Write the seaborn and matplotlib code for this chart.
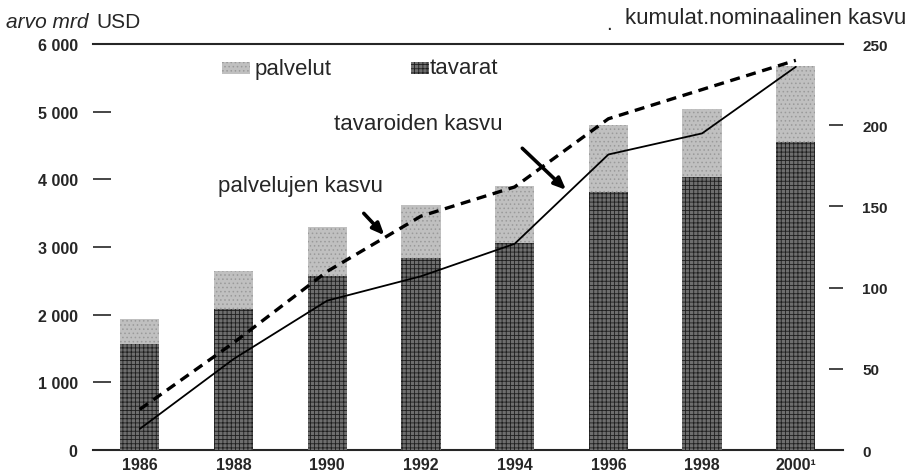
import numpy as np
import pandas as pd
import matplotlib
matplotlib.use("Agg")
import matplotlib.pyplot as plt
import seaborn as sns

years = ["1986", "1988", "1990", "1992", "1994", "1996", "1998", "2000¹"]
tavarat = [1560, 2080, 2570, 2840, 3060, 3820, 4030, 4550]
yhteensa = [1930, 2640, 3290, 3620, 3900, 4810, 5040, 5670]
palvelujen_kasvu = [25, 66, 110, 144, 162, 204, 222, 240]
tavaroiden_kasvu = [13, 56, 92, 107, 127, 182, 195, 236]

df = pd.DataFrame({"vuosi": years, "tavarat": tavarat, "yhteensa": yhteensa,
                   "palv": palvelujen_kasvu, "tav": tavaroiden_kasvu})
df["pos"] = np.arange(len(df))

sns.set_style("white")
plt.rcParams["font.family"] = ["Liberation Sans", "DejaVu Sans"]
plt.rcParams["hatch.linewidth"] = 0.6
narrow = ["Liberation Sans Narrow", "Liberation Sans", "DejaVu Sans"]

fig = plt.figure(figsize=(9.11, 4.77), dpi=100)
ax = fig.add_axes([0.102, 0.0545, 0.823, 0.851])

sns.barplot(data=df, x="vuosi", y="yhteensa", color="#c0c0c0", width=0.42,
            saturation=1, ax=ax, zorder=2)
sns.barplot(data=df, x="vuosi", y="tavarat", color="#6e6e6e", width=0.42,
            saturation=1, ax=ax, zorder=3)
for i, p in enumerate(ax.patches):
    p.set_linewidth(0)
    if i < len(df):
        p.set_hatch("....")
        p.set_edgecolor("#9a9a9a")
    else:
        p.set_hatch("++++")
        p.set_edgecolor("#1e1e1e")

ax.set_xlim(-0.5, len(df) - 0.5)
ax.set_ylim(0, 6000)
ax.set_yticks([0, 1000, 2000, 3000, 4000, 5000, 6000])
ax.set_yticklabels(["0", "1 000", "2 000", "3 000", "4 000", "5 000", "6 000"],
                   family=narrow, fontsize=11.5, fontweight="bold")
ax.set_xticks(df["pos"])
ax.set_xticklabels(years, family=narrow, fontsize=11.5, fontweight="bold")
ax.tick_params(axis="y", direction="in", length=13, width=1.2, pad=11, left=True)
ax.tick_params(axis="x", length=0, pad=5)
ax.set_xlabel("")
ax.set_ylabel("")
for s in ["left", "right"]:
    ax.spines[s].set_visible(False)
ax.spines["top"].set_linewidth(1.5)
ax.spines["bottom"].set_linewidth(1.5)

ax2 = ax.twinx()
sns.lineplot(data=df, x="pos", y="palv", ax=ax2, color="black", linewidth=2.4,
             linestyle=(0, (3, 2)), zorder=5)
sns.lineplot(data=df, x="pos", y="tav", ax=ax2, color="black", linewidth=1.3,
             zorder=5)
ax2.set_ylim(0, 250)
ax2.set_yticks([0, 50, 100, 150, 200, 250])
ax2.set_yticklabels(["0", "50", "100", "150", "200", "250"],
                    family=narrow, fontsize=11, fontweight="bold")
ax2.tick_params(axis="y", direction="in", length=10, width=1.2, pad=14, right=True)
ax2.set_ylabel("")
ax2.set_xlabel("")
for s in ["left", "right", "top", "bottom"]:
    ax2.spines[s].set_visible(False)
ax.set_xlim(-0.5, len(df) - 0.5)

# annotations
arrow = dict(arrowstyle="-|>,head_length=0.7,head_width=0.3", color="black", lw=2.6)
ax2.annotate("", xy=(2.63, 131), xytext=(2.37, 147), arrowprops=arrow)
ax2.text(0.83, 163, "palvelujen kasvu", fontsize=16, ha="left", va="center")
ax2.annotate("", xy=(4.57, 159), xytext=(4.06, 187), arrowprops=arrow)
ax2.text(2.07, 201, "tavaroiden kasvu", fontsize=16, ha="left", va="center")

# legend-like labels
fig.patches.append(plt.Rectangle((222 / 911, 1 - 75 / 477), 28 / 911, 12 / 477,
                                 transform=fig.transFigure, facecolor="#c0c0c0",
                                 hatch="....", edgecolor="#9a9a9a", linewidth=0))
fig.text(255 / 911, 1 - 69 / 477, "palvelut", fontsize=16, va="center")
fig.patches.append(plt.Rectangle((411 / 911, 1 - 75 / 477), 18 / 911, 12 / 477,
                                 transform=fig.transFigure, facecolor="#6e6e6e",
                                 hatch="++++", edgecolor="#1e1e1e", linewidth=0))
fig.text(430 / 911, 1 - 69 / 477, "tavarat", fontsize=16, va="center")

fig.text(6 / 911, 1 - 22 / 477, "arvo mrd", fontsize=15, style="italic", va="center")
fig.text(96 / 911, 1 - 22 / 477, "USD", fontsize=15, va="center")
fig.text(606 / 911, 1 - 24 / 477, ".", fontsize=15, va="center")
fig.text(906 / 911, 1 - 18 / 477, "kumulat.nominaalinen kasvu", fontsize=16,
         ha="right", va="center")

fig.savefig("out.png", dpi=100)
